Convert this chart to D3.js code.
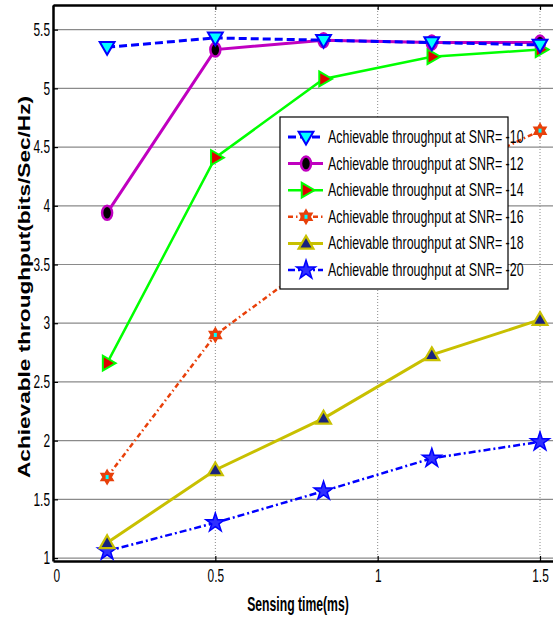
<!DOCTYPE html>
<html>
<head>
<meta charset="utf-8">
<script src="https://cdn.jsdelivr.net/npm/d3@7"></script>
<style>
body { margin: 0; background: #fff; }
svg { display: block; }
.tick text { font-family: "Liberation Sans", Arial, sans-serif; font-size: 18px; }
</style>
</head>
<body>
<div id="chart"></div>
<script>
// sensing time (ms)
const sensing = [1 / 6, 0.5, 0.8333, 1.1667, 1.5];
const snr10 = [5.35, 5.43, 5.41, 5.39, 5.37];
const snr12 = [3.94, 5.33, 5.41, 5.39, 5.39];
const snr14 = [2.66, 4.41, 5.08, 5.27, 5.33];
const snr16 = [1.69, 2.90, 3.58, 4.20, 4.64];
const snr18 = [1.13, 1.75, 2.19, 2.73, 3.03];
const snr20 = [1.06, 1.30, 1.57, 1.85, 1.99];
const legendNames = ["Achievable throughput at SNR= -10", "Achievable throughput at SNR= -12",
  "Achievable throughput at SNR= -14", "Achievable throughput at SNR= -16",
  "Achievable throughput at SNR= -18", "Achievable throughput at SNR= -20"];
const yTicks = [1, 1.5, 2, 2.5, 3, 3.5, 4, 4.5, 5, 5.5];
const xTicks = [0, 0.5, 1, 1.5];

const W = 553, H = 619;
const margin = {top: 5, left: 53, right: 0, bottom: 58};
const SQ = 0.66; // horizontal squeeze, the original uses a narrow face

const svg = d3.select("#chart").append("svg")
  .attr("width", W).attr("height", H);

const x = d3.scaleLinear().domain([0, 1.54]).range([margin.left, W - margin.right]);
const y = d3.scaleLinear().domain([0.975, 5.71]).range([H - margin.bottom, margin.top]);

// grid
svg.append("g").selectAll("line").data(yTicks).enter().append("line")
  .attr("x1", x(0)).attr("x2", W)
  .attr("y1", d => y(d)).attr("y2", d => y(d))
  .attr("stroke", "#8a8a8a").attr("stroke-width", 1.2);
svg.append("g").selectAll("line").data(xTicks.slice(1)).enter().append("line")
  .attr("x1", d => x(d)).attr("x2", d => x(d))
  .attr("y1", y(0.975)).attr("y2", margin.top)
  .attr("stroke", "#8a8a8a").attr("stroke-width", 1).attr("stroke-dasharray", "1,2");

// axes
const xAxis = svg.append("g").attr("transform", `translate(0,${y(0.975)})`)
  .call(d3.axisBottom(x).tickValues(xTicks).tickFormat(d3.format("")).tickSizeInner(-5).tickSizeOuter(0).tickPadding(8));
const xTop = svg.append("g").attr("transform", `translate(0,${margin.top})`)
  .call(d3.axisTop(x).tickValues(xTicks).tickFormat("").tickSizeInner(-5).tickSizeOuter(0));
const yAxis = svg.append("g").attr("transform", `translate(${x(0)},0)`)
  .call(d3.axisLeft(y).tickValues(yTicks).tickFormat(d3.format("")).tickSizeInner(-5).tickSizeOuter(0).tickPadding(3));
[xAxis, xTop, yAxis].forEach(g => {
  g.select(".domain").attr("stroke", "#000").attr("stroke-width", 2.5);
  g.selectAll(".tick line").attr("stroke", "#000").attr("stroke-width", 1.2);
  g.selectAll(".tick text").attr("fill", "#000");
});
xAxis.selectAll(".tick text").attr("transform", `scale(${SQ},1)`);
xAxis.selectAll(".tick text").filter(d => d === 0).attr("dx", 5);
yAxis.selectAll(".tick text").attr("transform", `scale(${SQ},1)`).attr("x", -3 / SQ);

// axis titles
svg.append("g").attr("transform", "translate(298,611) scale(0.61,1)")
  .append("text").attr("text-anchor", "middle")
  .style("font-family", "'Liberation Sans', Arial, sans-serif")
  .style("font-weight", "bold").style("font-size", "20px").text("Sensing time(ms)");
svg.append("text").attr("transform", "translate(30,287) rotate(-90)").attr("text-anchor", "middle")
  .style("font-family", "'Liberation Sans', Arial, sans-serif")
  .style("font-weight", "bold").style("font-size", "17px")
  .attr("textLength", 382).attr("lengthAdjust", "spacingAndGlyphs")
  .text("Achievable throughput(bits/Sec/Hz)");

// marker shapes
const hexagram = r => {
  const p = [];
  for (let i = 0; i < 12; i++) {
    const a = Math.PI / 6 * i - Math.PI / 2;
    const rr = i % 2 === 0 ? r : r * 0.58;
    p.push([rr * Math.cos(a), rr * Math.sin(a)]);
  }
  return "M" + p.map(q => q.join(",")).join("L") + "Z";
};
const tri = d3.symbol().type(d3.symbolTriangle).size(95)();
const star = d3.symbol().type(d3.symbolStar).size(110)();

const series = [
  {vals: snr10, color: "#0000ff", width: 3, dash: "8,4",
   marker: g => g.append("path").attr("d", tri).attr("transform", "rotate(180) translate(0,1)")
     .attr("fill", "#00ffff").attr("stroke", "#0000ff").attr("stroke-width", 2)},
  {vals: snr12, color: "#c000c0", width: 3, dash: null,
   marker: g => g.append("ellipse").attr("rx", 5).attr("ry", 7)
     .attr("fill", "#000").attr("stroke", "#c000c0").attr("stroke-width", 2.5)},
  {vals: snr14, color: "#00ff00", width: 2.5, dash: null,
   marker: g => g.append("path").attr("d", tri).attr("transform", "rotate(90)")
     .attr("fill", "#e00000").attr("stroke", "#00ff00").attr("stroke-width", 2)},
  {vals: snr16, color: "#e8400a", width: 2.5, dash: "5,3,1.5,3",
   marker: g => { g.append("path").attr("d", hexagram(7))
     .attr("fill", "#e8400a").attr("stroke", "#e8400a").attr("stroke-width", 1.5);
     g.append("rect").attr("x", -1.5).attr("y", -2).attr("width", 3).attr("height", 4).attr("fill", "#00ffff"); }},
  {vals: snr18, color: "#c8c000", width: 3, dash: null,
   marker: g => g.append("path").attr("d", tri).attr("transform", "translate(0,1)")
     .attr("fill", "#1a237e").attr("stroke", "#c8c000").attr("stroke-width", 2.2)},
  {vals: snr20, color: "#0000ff", width: 2.5, dash: "7,3,2,3",
   marker: g => g.append("path").attr("d", star)
     .attr("fill", "#3030ff").attr("stroke", "#0000ff").attr("stroke-width", 1.5)}
];

const line = d3.line().x(d => x(d[0])).y(d => y(d[1]));

// draw in reverse so SNR=-10 sits on top
series.slice().reverse().forEach(s => {
  const pts = sensing.map((t, i) => [t, s.vals[i]]);
  svg.append("path").datum(pts).attr("d", line)
    .attr("fill", "none").attr("stroke", s.color).attr("stroke-width", s.width)
    .attr("stroke-dasharray", s.dash);
  pts.forEach(p => {
    const g = svg.append("g").attr("transform", `translate(${x(p[0])},${y(p[1])})`);
    s.marker(g);
  });
});

// legend
const lg = svg.append("g").attr("transform", "translate(280,117)");
lg.append("rect").attr("width", 228).attr("height", 172)
  .attr("fill", "#fff").attr("stroke", "#000").attr("stroke-width", 1.2);
series.forEach((s, i) => {
  const yy = 20 + i * 26.6;
  lg.append("line").attr("x1", 8).attr("x2", 43).attr("y1", yy).attr("y2", yy)
    .attr("stroke", s.color).attr("stroke-width", s.width).attr("stroke-dasharray", s.dash);
  const g = lg.append("g").attr("transform", `translate(26,${yy})`);
  s.marker(g);
  lg.append("g").attr("transform", `translate(48,${yy + 6}) scale(0.71,1)`)
    .append("text")
    .style("font-family", "'Liberation Sans', Arial, sans-serif")
    .style("font-size", "17.5px")
    .text(legendNames[i]);
});
</script>
</body>
</html>
